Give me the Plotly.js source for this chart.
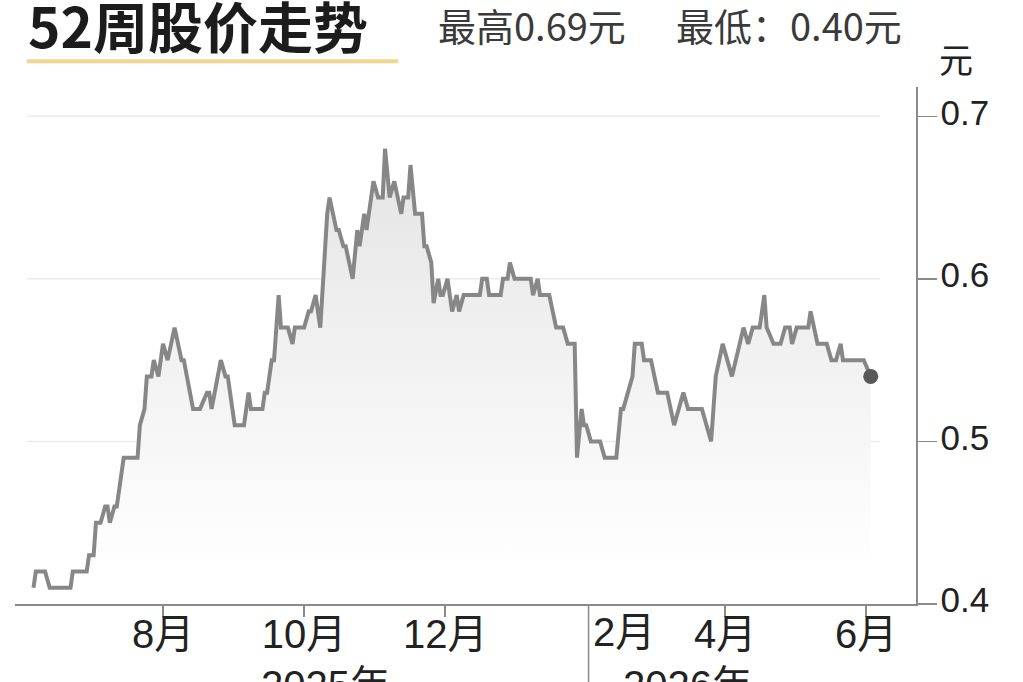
<!DOCTYPE html>
<html>
<head>
<meta charset="utf-8">
<script src="https://cdn.plot.ly/plotly-3.0.1.min.js"></script>
<style>html,body{margin:0;padding:0;background:#fff;}#chart{width:1023px;height:682px;}</style>
</head>
<body>
<div id="chart"></div>
<script>
const titleText = '52周股价走势';
const highText = '最高0.69元';
const lowText = '最低：0.40元';
const unitText = '元';

const dates = [
'2025-06-06','2025-06-07','2025-06-11','2025-06-13','2025-06-22','2025-06-23','2025-06-29','2025-06-30',
'2025-07-02','2025-07-03','2025-07-05','2025-07-07','2025-07-08','2025-07-09','2025-07-11','2025-07-12',
'2025-07-15','2025-07-21','2025-07-22','2025-07-24','2025-07-25','2025-07-27','2025-07-28','2025-07-30',
'2025-08-01','2025-08-03','2025-08-06','2025-08-09','2025-08-10','2025-08-14','2025-08-17','2025-08-20',
'2025-08-21','2025-08-22','2025-08-26','2025-08-28','2025-08-29','2025-09-01','2025-09-05','2025-09-07',
'2025-09-08','2025-09-13','2025-09-14','2025-09-15','2025-09-17','2025-09-18','2025-09-20','2025-09-21',
'2025-09-24','2025-09-26','2025-09-27','2025-10-01','2025-10-03','2025-10-04','2025-10-06','2025-10-08',
'2025-10-11','2025-10-12','2025-10-15','2025-10-16','2025-10-18','2025-10-19','2025-10-22','2025-10-24',
'2025-10-25','2025-10-27','2025-10-28','2025-10-31','2025-11-02','2025-11-04','2025-11-05','2025-11-07',
'2025-11-09','2025-11-12','2025-11-13','2025-11-15','2025-11-16','2025-11-18','2025-11-21','2025-11-22',
'2025-11-23','2025-11-25','2025-11-26','2025-11-28','2025-11-29','2025-11-30','2025-12-02','2025-12-04',
'2025-12-06','2025-12-07','2025-12-09','2025-12-16','2025-12-17','2025-12-19','2025-12-20','2025-12-25',
'2025-12-26','2025-12-28','2025-12-29','2025-12-31','2026-01-07','2026-01-08','2026-01-10','2026-01-11',
'2026-01-15','2026-01-18','2026-01-21','2026-01-23','2026-01-26','2026-01-27','2026-01-29','2026-01-30',
'2026-01-31','2026-02-02','2026-02-06','2026-02-08','2026-02-13','2026-02-15','2026-02-16','2026-02-20',
'2026-02-21','2026-02-24','2026-02-25','2026-02-28','2026-03-03','2026-03-07','2026-03-10','2026-03-14',
'2026-03-16','2026-03-22','2026-03-26','2026-03-28','2026-03-31','2026-04-04','2026-04-09','2026-04-11',
'2026-04-13','2026-04-16','2026-04-18','2026-04-19','2026-04-22','2026-04-25','2026-04-27','2026-04-29',
'2026-04-30','2026-05-02','2026-05-07','2026-05-08','2026-05-11','2026-05-15','2026-05-17','2026-05-19',
'2026-05-21','2026-05-22','2026-05-31','2026-06-03'
];
const prices = [
0.41,0.42,0.42,0.41,0.41,0.42,0.42,0.43,
0.43,0.45,0.45,0.46,0.46,0.45,0.46,0.46,
0.49,0.49,0.51,0.52,0.54,0.54,0.55,0.54,
0.56,0.55,0.57,0.55,0.55,0.52,0.52,0.53,
0.53,0.52,0.55,0.54,0.54,0.51,0.51,0.53,
0.52,0.52,0.53,0.53,0.55,0.55,0.59,0.57,
0.57,0.56,0.57,0.57,0.58,0.58,0.59,0.57,
0.64,0.65,0.63,0.63,0.62,0.62,0.60,0.63,
0.62,0.64,0.63,0.66,0.65,0.65,0.68,0.65,
0.66,0.64,0.65,0.65,0.67,0.64,0.64,0.62,
0.62,0.61,0.585,0.60,0.59,0.59,0.60,0.58,
0.59,0.58,0.59,0.59,0.60,0.60,0.59,0.59,
0.60,0.60,0.61,0.60,0.60,0.59,0.60,0.59,
0.59,0.57,0.57,0.56,0.56,0.49,0.52,0.51,
0.51,0.50,0.50,0.49,0.49,0.52,0.52,0.54,
0.56,0.56,0.55,0.55,0.53,0.53,0.51,0.53,
0.52,0.52,0.50,0.54,0.56,0.54,0.57,0.56,
0.57,0.57,0.59,0.57,0.56,0.56,0.57,0.57,
0.56,0.57,0.57,0.58,0.56,0.56,0.55,0.55,
0.56,0.55,0.55,0.54
];

const monthTicks = ['2025-08-01','2025-10-01','2025-12-01','2026-02-01','2026-04-01','2026-06-01'];
const monthLabels = ['8月','10月','12月','2月','4月','6月'];
const yearLabels = ['2025年','2026年'];
const yearDivider = '2026-02-01';
const yTicks = [0.4, 0.5, 0.6, 0.7];
const yTickLabels = ['0.4', '0.5', '0.6', '0.7'];
const gridValues = [0.5, 0.6, 0.7];

const latin = '"Liberation Sans", "Noto Sans CJK SC", sans-serif';
const cjk = '"Noto Sans CJK SC", "Liberation Sans", sans-serif';
const axisGray = '#8a8a8a';
const textColor = '#222222';

const lineTrace = {
  x: dates, y: prices, type: 'scatter', mode: 'lines',
  line: {color: '#878787', width: 4, shape: 'linear'},
  fill: 'tozeroy',
  fillgradient: {type: 'vertical', start: 0.42, stop: 0.68,
    colorscale: [[0, 'rgba(255,255,255,1)'], [1, 'rgba(228,228,228,1)']]},
  hoverinfo: 'skip'
};
const endTrace = {
  x: [dates[dates.length - 1]], y: [prices[prices.length - 1]],
  type: 'scatter', mode: 'markers',
  marker: {color: '#585858', size: 15},
  hoverinfo: 'skip', cliponaxis: false
};

const shapes = gridValues.map(v => ({
  type: 'line', xref: 'paper', yref: 'y', x0: 0.013, x1: 0.96, y0: v, y1: v,
  line: {color: '#ececec', width: 1.5}, layer: 'below'
}));
shapes.push({type: 'line', xref: 'x', yref: 'paper', x0: yearDivider, x1: yearDivider, y0: 0, y1: -0.16,
  line: {color: axisGray, width: 1.5}});
shapes.push({type: 'line', xref: 'paper', yref: 'paper', x0: 0.013, x1: 0.425, y0: 1.05, y1: 1.05,
  line: {color: '#f2d690', width: 4}});

const annotations = [
  {text: monthLabels[3], xref: 'x', yref: 'paper', x: monthTicks[3], y: -0.054, xanchor: 'left', yanchor: 'middle',
   xshift: 2, showarrow: false, font: {family: latin, size: 40, color: textColor}},
  {text: yearLabels[0], xref: 'paper', yref: 'paper', x: 0.345, y: -0.11, xanchor: 'center', yanchor: 'top',
   showarrow: false, font: {family: latin, size: 40, color: textColor}},
  {text: yearLabels[1], xref: 'paper', yref: 'paper', x: 0.746, y: -0.11, xanchor: 'center', yanchor: 'top',
   showarrow: false, font: {family: latin, size: 40, color: textColor}},
  {text: unitText, xref: 'paper', yref: 'paper', x: 1.044, y: 1.056, xanchor: 'center', yanchor: 'middle',
   showarrow: false, font: {family: cjk, size: 34, color: textColor}},
  {text: highText, xref: 'paper', yref: 'paper', x: (436 - 15) / 901, y: (604 - 24) / 517, xanchor: 'left', yanchor: 'middle',
   showarrow: false, font: {family: cjk, size: 38, color: '#3a3a3a'}},
  {text: lowText, xref: 'paper', yref: 'paper', x: (674 - 15) / 901, y: (604 - 24) / 517, xanchor: 'left', yanchor: 'middle',
   showarrow: false, font: {family: cjk, size: 38, color: '#3a3a3a'}}
];

const layout = {
  width: 1023, height: 682,
  margin: {l: 15, r: 107, t: 87, b: 78, pad: 0},
  paper_bgcolor: '#ffffff', plot_bgcolor: '#ffffff',
  showlegend: false,
  title: {text: '<b>' + titleText + '</b>', xref: 'container', yref: 'container',
    x: 28 / 1023, xanchor: 'left', y: 1 - 29 / 682, yanchor: 'middle',
    font: {family: cjk, size: 55, color: '#1c1c1c'}},
  xaxis: {
    type: 'date', range: ['2025-05-29', '2026-06-22 14:00'],
    showgrid: false, zeroline: false,
    showline: true, linecolor: axisGray, linewidth: 1.5,
    ticks: 'outside', ticklen: 11, tickwidth: 1.5, tickcolor: axisGray,
    tickmode: 'array', tickvals: monthTicks,
    ticktext: monthLabels.map((l, i) => i === 3 ? '' : l),
    tickfont: {family: latin, size: 40, color: textColor},
    ticklabelstandoff: -17
  },
  yaxis: {
    side: 'right', range: [0.4, 0.718],
    showgrid: false, zeroline: false,
    showline: true, linecolor: axisGray, linewidth: 1.5,
    ticks: 'outside', ticklen: 19, tickwidth: 1.5, tickcolor: axisGray,
    tickmode: 'array', tickvals: yTicks, ticktext: yTickLabels,
    tickfont: {family: latin, size: 35, color: textColor},
    ticklabelstandoff: -3, ticklabelshift: -4
  },
  shapes: shapes,
  annotations: annotations
};

Plotly.newPlot('chart', [lineTrace, endTrace], layout, {staticPlot: true, displayModeBar: false});
</script>
</body>
</html>
